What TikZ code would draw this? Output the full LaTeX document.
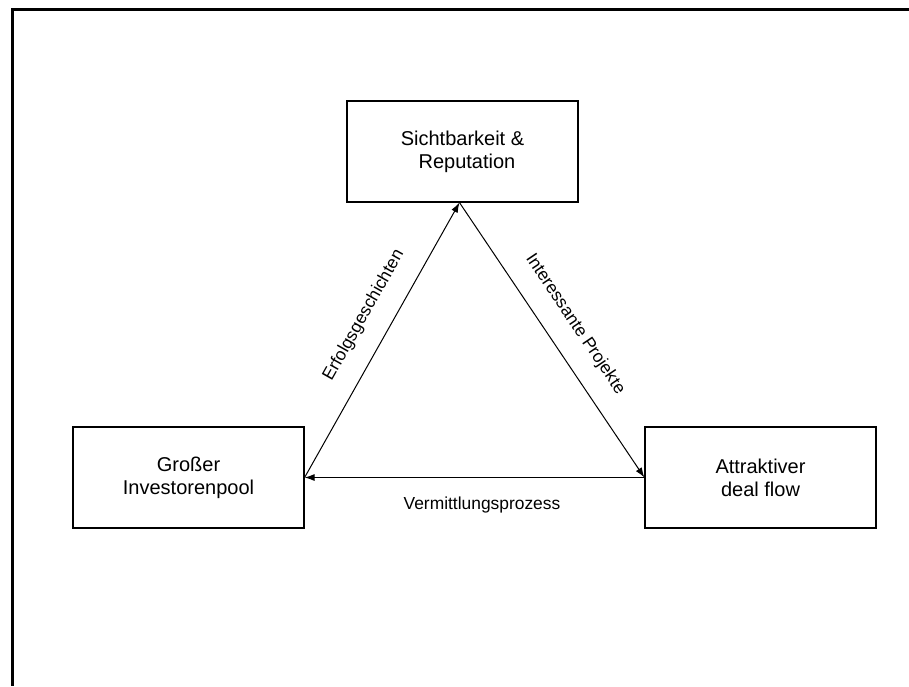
\documentclass[tikz,border=0pt]{standalone}
\usepackage{fontspec}
\setmainfont{Liberation Sans}
\usetikzlibrary{arrows.meta}

\tikzset{
  box/.style={draw=black, line width=1.2pt, minimum width=231pt, minimum height=101pt,
    align=center, inner sep=0pt, font=\fontsize{20}{23}\selectfont},
  flow/.style={line width=1pt, -{Latex[length=10pt,width=7pt]}},
  lbl/.style={font=\fontsize{17.4}{20}\selectfont, inner sep=0.3333em}
}

\begin{document}
\begin{tikzpicture}[x=1pt, y=-1pt]

\useasboundingbox (0,0) rectangle (909,686);

% Frame
\draw[line width=3pt] (909,9) -- (12,9) -- (12,686);



% Sichtbarkeit box
\node[box] (vis) at (462.5,151.5) {Sichtbarkeit \&\\\hspace*{0.45em}Reputation};

% Investorenpool box
\node[box] (pool) at (188.5,477.5) {Großer\\Investorenpool};

% Deal flow box
\node[box] (deal) at (760.5,477.5) {Attraktiver\\deal flow};



% Cycle
\draw[flow] (pool.east) -- node[lbl, sloped, above=16pt, pos=.54] {Erfolgsgeschichten} ([xshift=-3pt]vis.south);

\draw[flow] ([xshift=-3pt]vis.south) -- node[lbl, sloped, above=16pt, pos=.5] {Interessante Projekte} (deal.west);

\draw[flow] (deal.west) -- node[lbl, below=16pt, pos=.478] {Vermittlungsprozess} (pool.east);


\end{tikzpicture}
\end{document}
